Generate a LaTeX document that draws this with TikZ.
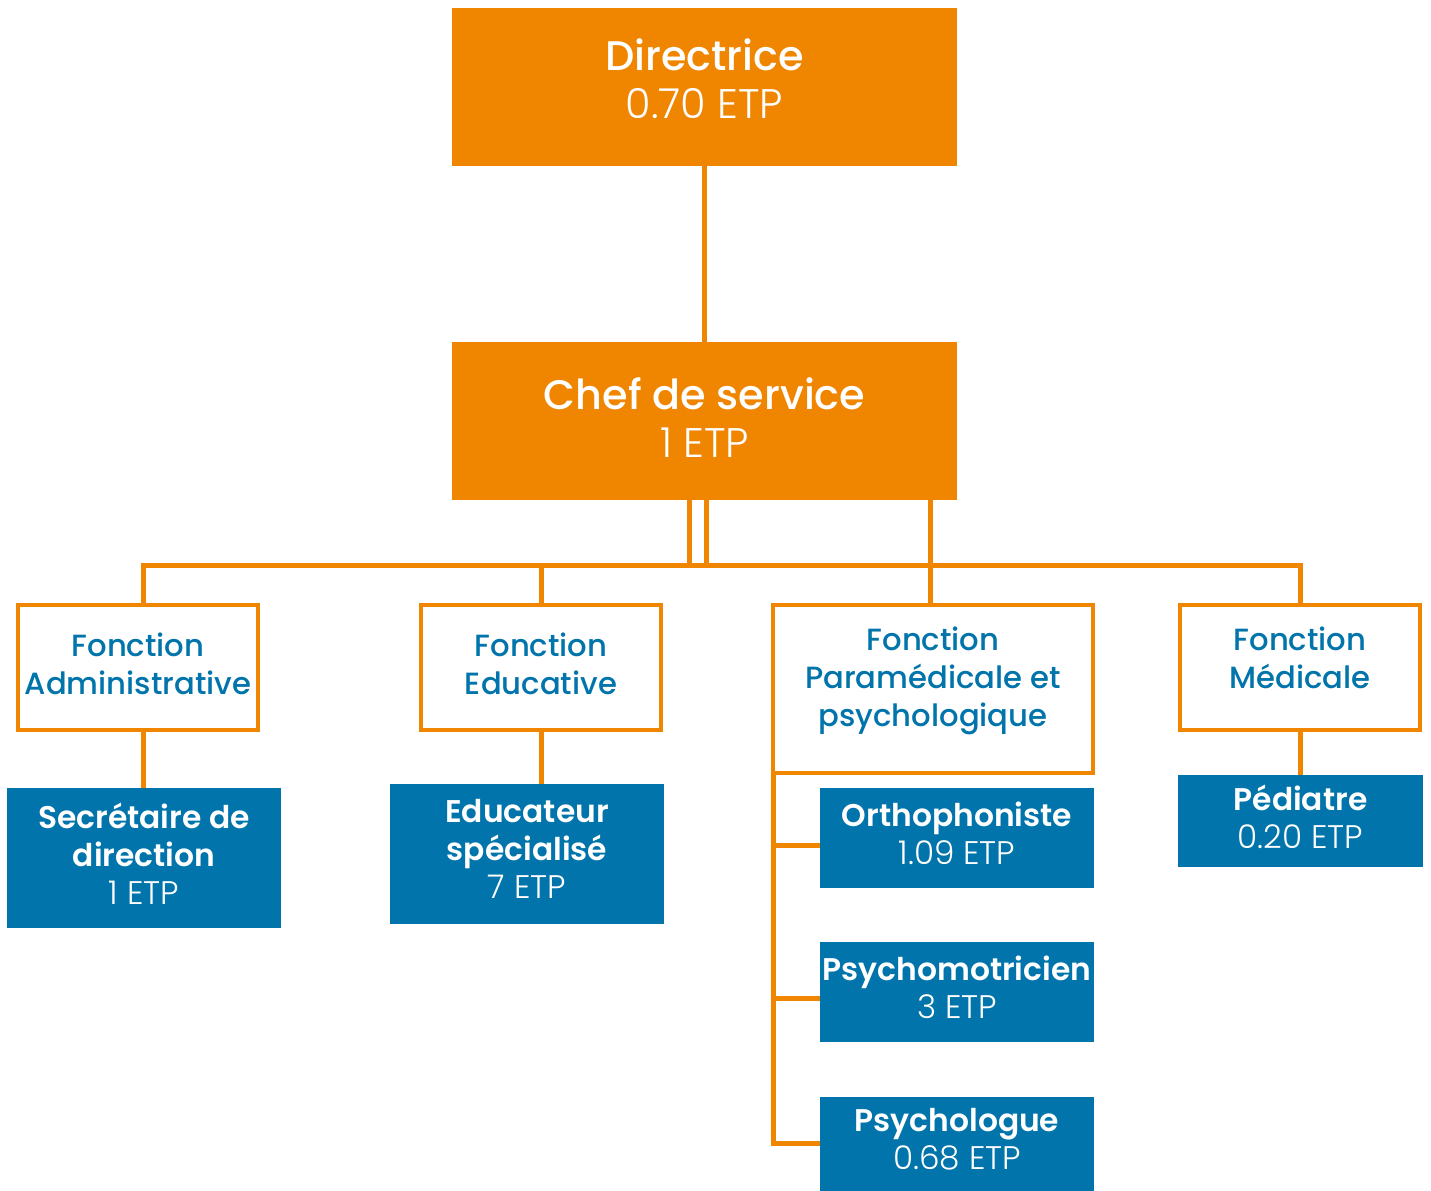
\documentclass[tikz,border=0pt]{standalone}
\usepackage{fontspec}
\setmainfont{Poppins}[UprightFont=* Light, BoldFont=* Medium]
\newfontfamily\semib{Poppins SemiBold}
\definecolor{org}{RGB}{240,133,0}
\definecolor{blu}{RGB}{0,116,171}
\newcommand\nm[1]{{\semib\fontsize{23.5}{28.5}\selectfont #1}}
\begin{document}
\begin{tikzpicture}[x=0.75pt,y=-0.75pt,
  wh/.style 2 args={minimum width=#1*0.75pt, minimum height=#2*0.75pt, inner sep=0pt, align=center},
  topbox/.style={fill=org, text=white, font=\fontsize{31}{36}\selectfont},
  fbox/.style={draw=org, line width=3pt, fill=white, text=blu, font=\fontsize{23}{28.5}\selectfont\bfseries},
  pbox/.style={fill=blu, text=white, font=\fontsize{24.5}{28.5}\selectfont, text depth=7pt},
  conn/.style={draw=org, line width=3.75pt}]
\useasboundingbox (0,0) rectangle (1431,1191);
% top boxes
\node[topbox, wh={505}{158}, text depth=12pt] (dir) at (704.5,87) {\textbf{Directrice}\\0.70 ETP};
\node[topbox, wh={505}{158}, text depth=4.5pt] (chef) at (704.5,421) {\textbf{Chef de service}\\1 ETP};
% bus coordinates
\coordinate (ba) at (143,565);
\coordinate (be) at (541,565);
\coordinate (bp) at (930,565);
\coordinate (bm) at (1300,565);
\coordinate (c1) at (689,565);
\coordinate (c2) at (706,565);
\coordinate (pv) at (773,773);
% connectors behind boxes
\draw[conn] (dir.south) -- (chef.north);
\draw[conn] (c1 |- chef.south) -- (c1);
\draw[conn] (c2 |- chef.south) -- (c2);
\draw[conn] (ba |- 0,603) -- (ba) -- (bm) -- (bm |- 0,603);
\draw[conn] (be) -- (be |- 0,603);
\draw[conn] (bp |- chef.south) -- (bp |- 0,603);
\draw[conn] (ba |- 0,732) -- (ba |- 0,788);
\draw[conn] (be |- 0,732) -- (be |- 0,784);
\draw[conn] (bm |- 0,732) -- (bm |- 0,775);
% function boxes
\node[fbox, wh={240}{125}, text depth=6pt] (adm) at (138,667.5) {Fonction\\Administrative};
\node[fbox, wh={240}{125}, text depth=6pt] (edu) at (541,667.5) {Fonction\\Educative};
\node[fbox, wh={320}{168}, text depth=19pt] (para) at (933,689) {Fonction\\Paramédicale et\\psychologique};
\node[fbox, wh={240}{125}, text depth=15pt] (med) at (1300,667.5) {Fonction\\Médicale};
% staff boxes
\node[pbox, wh={274}{140}] (sec) at (144,858) {\nm{Secrétaire de}\\\nm{direction}\\1 ETP};
\node[pbox, wh={274}{140}] (educ) at (527,854) {\nm{Educateur}\\\nm{spécialisé}\\7 ETP};
\node[pbox, wh={245}{92}] (ped) at (1300.5,821) {\nm{Pédiatre}\\0.20 ETP};
\node[pbox, wh={274}{100}] (orth) at (957,838) {\nm{Orthophoniste}\\1.09 ETP};
\node[pbox, wh={274}{100}] (pmot) at (957,992) {\nm{Psychomotricien}\\3 ETP};
\node[pbox, wh={274}{94}] (plog) at (957,1144) {\nm{Psychologue}\\0.68 ETP};
% paramedical branch
\draw[conn] (pv) -- (pv |- 0,1143) -- (plog.west |- 0,1143);
\draw[conn] (pv |- 0,845) -- (orth.west |- 0,845);
\draw[conn] (pv |- 0,998) -- (pmot.west |- 0,998);
\end{tikzpicture}
\end{document}
